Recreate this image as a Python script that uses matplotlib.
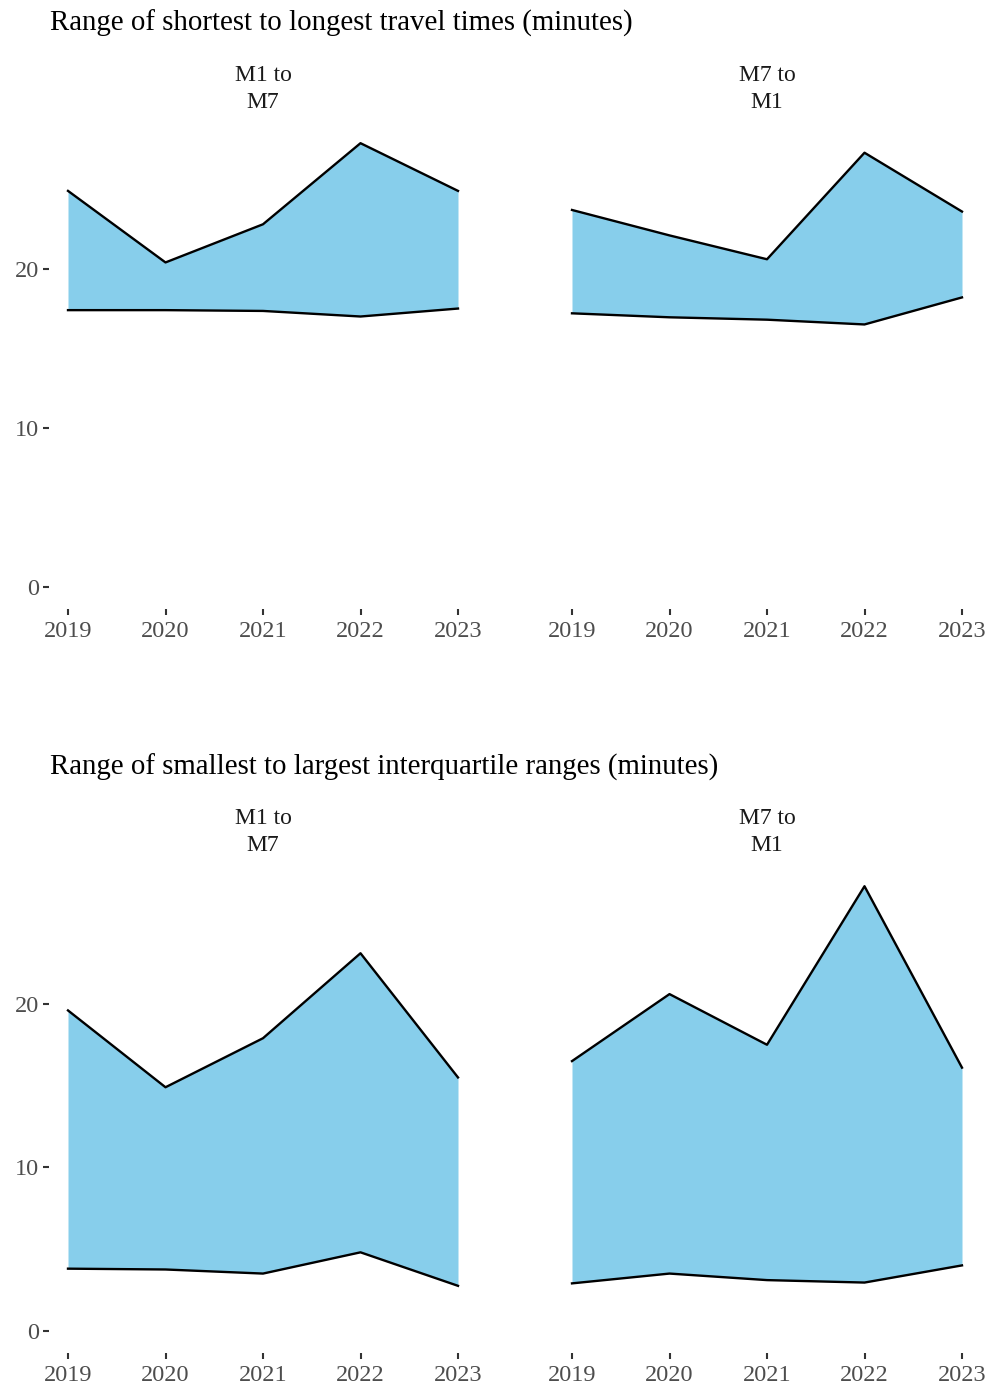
import matplotlib
matplotlib.use("Agg")
import matplotlib.pyplot as plt
import numpy as np

plt.rcParams['font.family'] = ['Liberation Serif', 'DejaVu Serif']

years = [2019, 2020, 2021, 2022, 2023]
facets = ["M1 to\nM7", "M7 to\nM1"]

# Section 1: range of shortest to longest travel times
tt_m1m7_low = [17.4, 17.4, 17.35, 17.0, 17.5]
tt_m1m7_high = [24.9, 20.4, 22.8, 27.9, 24.9]
tt_m7m1_low = [17.2, 16.95, 16.8, 16.5, 18.2]
tt_m7m1_high = [23.7, 22.1, 20.6, 27.3, 23.6]

# Section 2: range of smallest to largest interquartile ranges
iqr_m1m7_low = [3.8, 3.75, 3.5, 4.8, 2.75]
iqr_m1m7_high = [19.6, 14.9, 17.9, 23.1, 15.5]
iqr_m7m1_low = [2.9, 3.5, 3.1, 2.95, 4.0]
iqr_m7m1_high = [16.5, 20.6, 17.5, 27.2, 16.1]

titles = ["Range of shortest to longest travel times (minutes)",
          "Range of smallest to largest interquartile ranges (minutes)"]

sections = [
    [(tt_m1m7_low, tt_m1m7_high), (tt_m7m1_low, tt_m7m1_high)],
    [(iqr_m1m7_low, iqr_m1m7_high), (iqr_m7m1_low, iqr_m7m1_high)],
]

W, H = 989, 1391
fig = plt.figure(figsize=(W / 100, H / 100), dpi=100)

# pixel layouts: (top, bottom) per section, (left, right) per facet
sec_px = [(121, 609), (864, 1353)]
fac_px = [(48.5, 477.5), (552.5, 981.5)]
title_y = [23, 767]

fill_col = "#87CEEB"
tick_col = "#333333"
lab_col = "#4D4D4D"

for s, (top, bot) in enumerate(sec_px):
    allvals = [v for pair in sections[s] for arr in pair for v in arr]
    ymax = max(allvals)
    ymin = 0.0
    pad = 0.05 * (ymax - ymin)
    fig.text(50 / W, 1 - title_y[s] / H, titles[s], fontsize=20.8,
             ha="left", va="center", color="black")
    for f, (l, r) in enumerate(fac_px):
        ax = fig.add_axes([l / W, 1 - bot / H, (r - l) / W, (bot - top) / H])
        low, high = sections[s][f]
        ax.fill_between(years, low, high, color=fill_col, linewidth=0)
        ax.plot(years, high, color="black", linewidth=1.7)
        ax.plot(years, low, color="black", linewidth=1.7)
        ax.set_xlim(years[0] - 0.05 * (years[-1] - years[0]),
                    years[-1] + 0.05 * (years[-1] - years[0]))
        ax.set_ylim(ymin - pad, ymax + pad)
        ax.set_xticks(years)
        ax.set_xticklabels([str(y) for y in years])
        ax.set_yticks([0, 10, 20])
        for sp in ax.spines.values():
            sp.set_visible(False)
        ax.tick_params(axis="both", length=4, width=1.5, color=tick_col,
                       labelcolor=lab_col, labelsize=17.5, pad=3)
        ax.tick_params(axis="x", pad=4.5)
        if f == 1:
            ax.tick_params(axis="y", left=False, labelleft=False)
        cx = (l + r) / 2
        fig.text(cx / W, 1 - (top - 32) / H, facets[f], fontsize=17,
                 ha="center", va="center", color="#1A1A1A", linespacing=1.38)
        ax.set_facecolor("white")

fig.savefig("out.png", dpi=100, facecolor="white")
